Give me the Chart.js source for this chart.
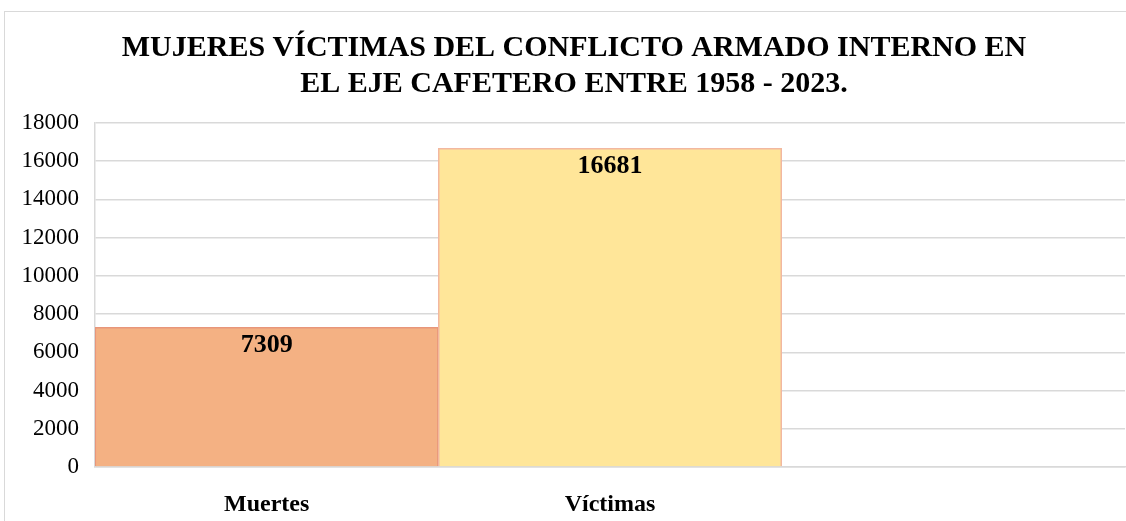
<!DOCTYPE html>
<html>
<head>
<meta charset="utf-8">
<script src="https://cdn.jsdelivr.net/npm/chart.js@4/dist/chart.umd.min.js"></script>
<style>
  html, body { margin: 0; padding: 0; background: #fff; }
  #wrap { position: relative; width: 1126px; height: 521px; overflow: hidden; }
  #frame { position: absolute; left: 4px; top: 11px; right: -2px; bottom: -2px; border-left: 1px solid #d9d9d9; border-top: 1px solid #d9d9d9; }
  canvas { position: absolute; left: 0; top: 0; }
</style>
</head>
<body>
<div id="wrap">
  <div id="frame"></div>
  <canvas id="c" width="1126" height="521"></canvas>
</div>
<script>
const titleLines = ['MUJERES VÍCTIMAS DEL CONFLICTO ARMADO INTERNO EN', 'EL EJE CAFETERO ENTRE 1958 - 2023.'];
const categories = ['Muertes', 'Víctimas', ''];
const values = [7309, 16681, null];
const fillColors = ['#F4B183', '#FFE699', '#FFE699'];
const borderColors = ['#E8967A', '#F2B8A0', '#F2B8A0'];
const yMin = 0, yMax = 18000, yStep = 2000;

const SERIF = "'Liberation Serif', 'Times New Roman', serif";

const titlePlugin = {
  id: 'customTitle',
  afterDraw(chart) {
    const ctx = chart.ctx;
    ctx.save();
    ctx.fillStyle = '#000';
    ctx.font = 'bold 30px ' + SERIF;
    ctx.textAlign = 'center';
    ctx.textBaseline = 'middle';
    ctx.fillText(titleLines[0], 574, 48);
    ctx.fillText(titleLines[1], 574, 84);
    ctx.restore();
  }
};

const valueLabels = {
  id: 'valueLabels',
  afterDatasetsDraw(chart) {
    const ctx = chart.ctx;
    const meta = chart.getDatasetMeta(0);
    ctx.save();
    ctx.fillStyle = '#000';
    ctx.font = 'bold 26px ' + SERIF;
    ctx.textAlign = 'center';
    ctx.textBaseline = 'middle';
    meta.data.forEach((bar, i) => {
      const v = chart.data.datasets[0].data[i];
      if (v == null) return;
      ctx.fillText(String(v), bar.x, bar.y + 18);
    });
    ctx.restore();
  }
};

new Chart(document.getElementById('c'), {
  type: 'bar',
  data: {
    labels: categories,
    datasets: [{
      data: values,
      backgroundColor: fillColors,
      borderColor: borderColors,
      borderWidth: 1.5,
      barPercentage: 1,
      categoryPercentage: 1
    }]
  },
  options: {
    responsive: false,
    animation: false,
    events: [],
    layout: { padding: { top: 123, left: 0, right: 1, bottom: 0 } },
    plugins: { legend: { display: false }, title: { display: false }, tooltip: { enabled: false } },
    scales: {
      x: {
        grid: { display: false, drawTicks: false },
        border: { display: true, color: '#d9d9d9', width: 1.5 },
        ticks: { color: '#000', font: { family: SERIF, size: 24, weight: 'bold' }, padding: 23, maxRotation: 0 },
        afterFit(s) { s.height = 54; }
      },
      y: {
        min: yMin, max: yMax,
        ticks: { stepSize: yStep, color: '#000', font: { family: SERIF, size: 23 }, padding: 16,
                 callback: (v) => String(v) },
        grid: { color: '#d9d9d9', lineWidth: 1.5, drawTicks: false },
        border: { display: true, color: '#d9d9d9', width: 1.5 },
        afterFit(s) { s.width = 95; }
      }
    }
  },
  plugins: [titlePlugin, valueLabels]
});
</script>
</body>
</html>
